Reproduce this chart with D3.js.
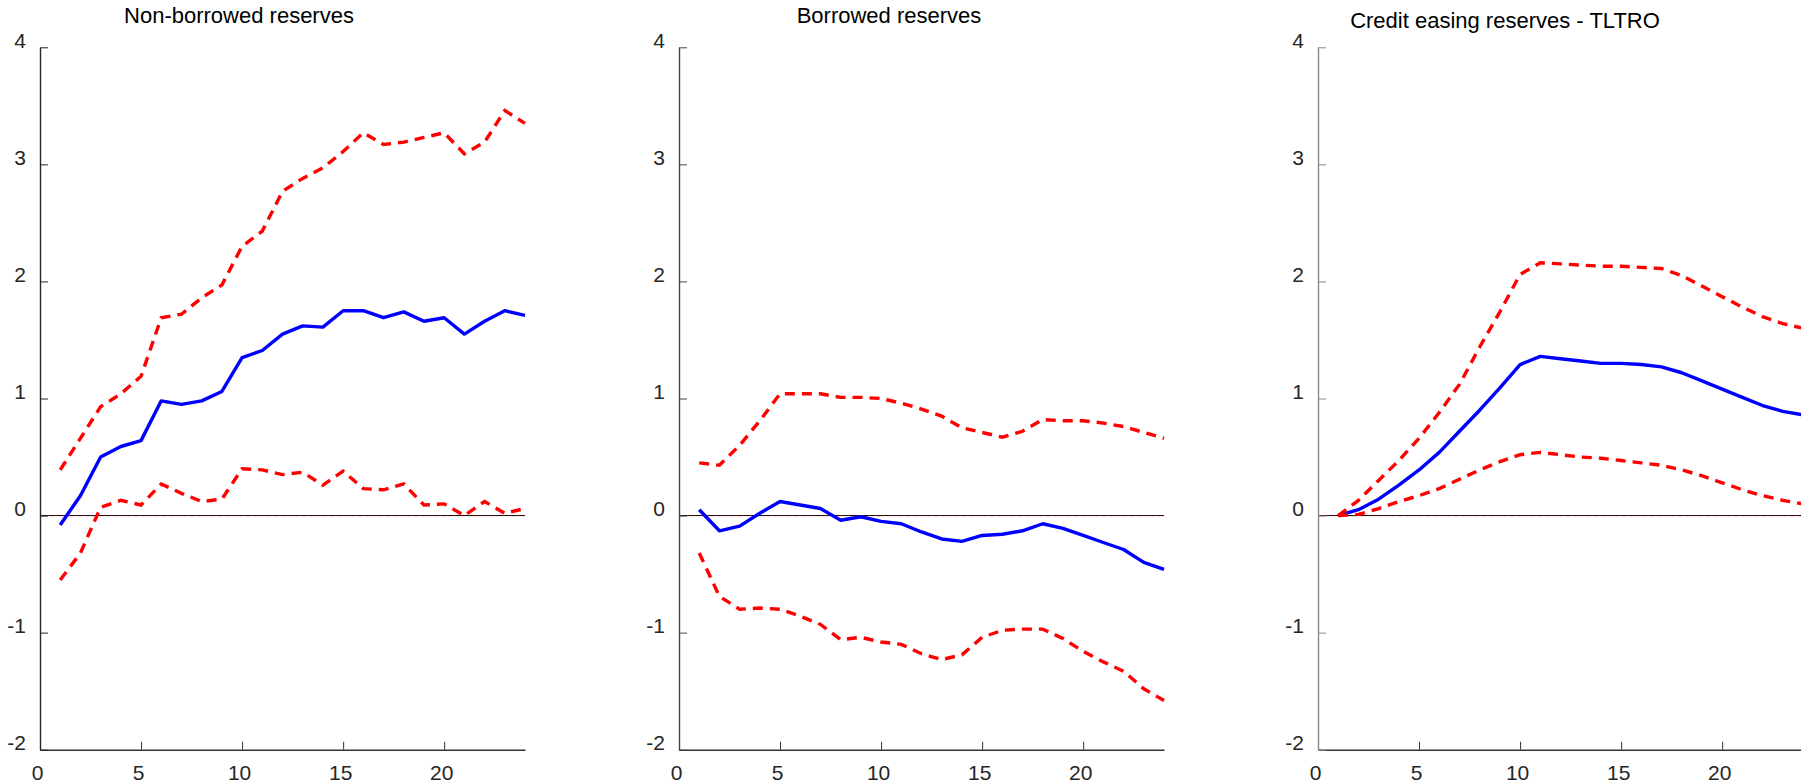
<!DOCTYPE html>
<html>
<head>
<meta charset="utf-8">
<script src="https://cdn.jsdelivr.net/npm/d3@7/dist/d3.min.js"></script>
<style>
  body { margin: 0; background: #fff; }
  svg { display: block; font-family: 'Liberation Sans', Arial, Helvetica, sans-serif; }
</style>
</head>
<body>
<div id="chart"></div>
<script>
// 冲击响应期数
var horizon = [1, 2, 3, 4, 5, 6, 7, 8, 9, 10, 11, 12, 13, 14, 15, 16, 17, 18, 19, 20, 21, 22, 23, 24]
var xTicks = [0, 5, 10, 15, 20]
var yTicks = [-2, -1, 0, 1, 2, 3, 4]

var titles = ['Non-borrowed reserves', 'Borrowed reserves', 'Credit easing reserves - TLTRO']

// Non-borrowed reserves
var nbMedian = [-0.08, 0.17, 0.50, 0.59, 0.64, 0.98, 0.95, 0.98, 1.06, 1.35, 1.41, 1.55, 1.62, 1.61, 1.75, 1.75, 1.69, 1.74, 1.66, 1.69, 1.55, 1.66, 1.75, 1.71]
var nbUpper = [0.39, 0.66, 0.93, 1.04, 1.19, 1.69, 1.72, 1.86, 1.97, 2.30, 2.43, 2.77, 2.88, 2.97, 3.11, 3.27, 3.17, 3.19, 3.23, 3.27, 3.09, 3.19, 3.46, 3.35]
var nbLower = [-0.55, -0.32, 0.07, 0.13, 0.09, 0.27, 0.19, 0.12, 0.14, 0.40, 0.39, 0.35, 0.37, 0.26, 0.38, 0.23, 0.22, 0.27, 0.09, 0.10, 0.00, 0.12, 0.02, 0.06]

// Borrowed reserves
var brMedian = [0.05, -0.13, -0.09, 0.02, 0.12, 0.09, 0.06, -0.04, -0.01, -0.05, -0.07, -0.14, -0.20, -0.22, -0.17, -0.16, -0.13, -0.07, -0.11, -0.17, -0.23, -0.29, -0.40, -0.46]
var brUpper = [0.45, 0.43, 0.60, 0.81, 1.04, 1.04, 1.04, 1.01, 1.01, 1.00, 0.96, 0.91, 0.85, 0.75, 0.71, 0.67, 0.72, 0.82, 0.81, 0.81, 0.79, 0.76, 0.71, 0.66]
var brLower = [-0.32, -0.69, -0.80, -0.79, -0.80, -0.86, -0.93, -1.06, -1.04, -1.08, -1.10, -1.18, -1.23, -1.19, -1.04, -0.98, -0.97, -0.97, -1.05, -1.16, -1.25, -1.33, -1.48, -1.58]

// Credit easing reserves - TLTRO
var ceMedian = [0.00, 0.05, 0.14, 0.26, 0.39, 0.54, 0.72, 0.90, 1.09, 1.29, 1.36, 1.34, 1.32, 1.30, 1.30, 1.29, 1.27, 1.22, 1.15, 1.08, 1.01, 0.94, 0.89, 0.86]
var ceUpper = [0.00, 0.13, 0.30, 0.47, 0.66, 0.88, 1.12, 1.44, 1.74, 2.06, 2.16, 2.15, 2.14, 2.13, 2.13, 2.12, 2.11, 2.05, 1.96, 1.87, 1.78, 1.70, 1.64, 1.60]
var ceLower = [0.00, 0.01, 0.06, 0.12, 0.17, 0.23, 0.31, 0.39, 0.46, 0.52, 0.54, 0.52, 0.50, 0.49, 0.47, 0.45, 0.43, 0.39, 0.34, 0.28, 0.22, 0.17, 0.13, 0.10]

var width = 1801
var height = 784

var svg = d3.select('#chart').append('svg').attr('width', width).attr('height', height)

// 单个子图
function drawPanel(opt) {
  var left = opt.left
  var top = 47.3
  var bottom = 749.7
  var w = 485

  var x = d3.scaleLinear().domain([0, 24]).range([0, w])
  var y = d3.scaleLinear().domain([-2, 4]).range([bottom - top, 0])

  var g = svg.append('g').attr('transform', `translate(${left}, ${top})`)

  var line = d3.line()
    .x(function(d, i) { return x(horizon[i]) })
    .y(function(d) { return y(d) })

  // 零线
  g.append('line')
    .attr('x1', x(0)).attr('x2', x(24))
    .attr('y1', y(0)).attr('y2', y(0))
    .attr('stroke', '#000')
    .attr('stroke-width', 1)
  g.append('line')
    .attr('x1', x(0)).attr('x2', x(24))
    .attr('y1', y(0)).attr('y2', y(0))
    .attr('stroke', '#ff0000')
    .attr('stroke-width', 0.7)
    .attr('stroke-dasharray', '3 4')
    .attr('opacity', 0.6)

  g.append('path')
    .attr('d', line(opt.median))
    .attr('fill', 'none')
    .attr('stroke', '#0000ff')
    .attr('stroke-width', 3.4)
    .attr('stroke-linejoin', 'round')

  ;[opt.upper, opt.lower].forEach(function(band) {
    g.append('path')
      .attr('d', line(band))
      .attr('fill', 'none')
      .attr('stroke', '#ff0000')
      .attr('stroke-width', 3.4)
      .attr('stroke-dasharray', '10 7')
  })

  // x轴
  var axisBottom = d3.axisBottom(x).tickValues(xTicks).tickSize(-8).tickSizeOuter(0).tickPadding(15)
    .tickFormat(function(d) { return String(d) })
  var gx = g.append('g').attr('transform', `translate(0, ${y(-2)})`).call(axisBottom)
  gx.select('.domain').attr('stroke', '#333').attr('stroke-width', 1.4)
  gx.selectAll('.tick line').attr('stroke', '#333')
  gx.selectAll('text').attr('fill', '#262626').attr('font-size', 21).attr('dx', -3)

  // y轴
  var axisLeft = d3.axisLeft(y).tickValues(yTicks).tickSize(-8).tickSizeOuter(0).tickPadding(14)
    .tickFormat(function(d) { return String(d) })
  var gy = g.append('g').call(axisLeft)
  gy.select('.domain').attr('stroke', opt.axisColor).attr('stroke-width', 1.4)
  gy.selectAll('.tick line').attr('stroke', opt.axisColor)
  gy.selectAll('text').attr('fill', '#262626').attr('font-size', 21).attr('dy', 0)

  svg.append('text')
    .text(opt.title)
    .attr('x', opt.titleX)
    .attr('y', opt.titleY)
    .attr('text-anchor', 'middle')
    .attr('font-size', 22)
    .attr('fill', '#000')
}

drawPanel({ left: 40, title: titles[0], titleX: 239, titleY: 23, axisColor: '#262626', median: nbMedian, upper: nbUpper, lower: nbLower })
drawPanel({ left: 679, title: titles[1], titleX: 889, titleY: 23, axisColor: '#444', median: brMedian, upper: brUpper, lower: brLower })
drawPanel({ left: 1318, title: titles[2], titleX: 1505, titleY: 28, axisColor: '#888', median: ceMedian, upper: ceUpper, lower: ceLower })
</script>
</body>
</html>
